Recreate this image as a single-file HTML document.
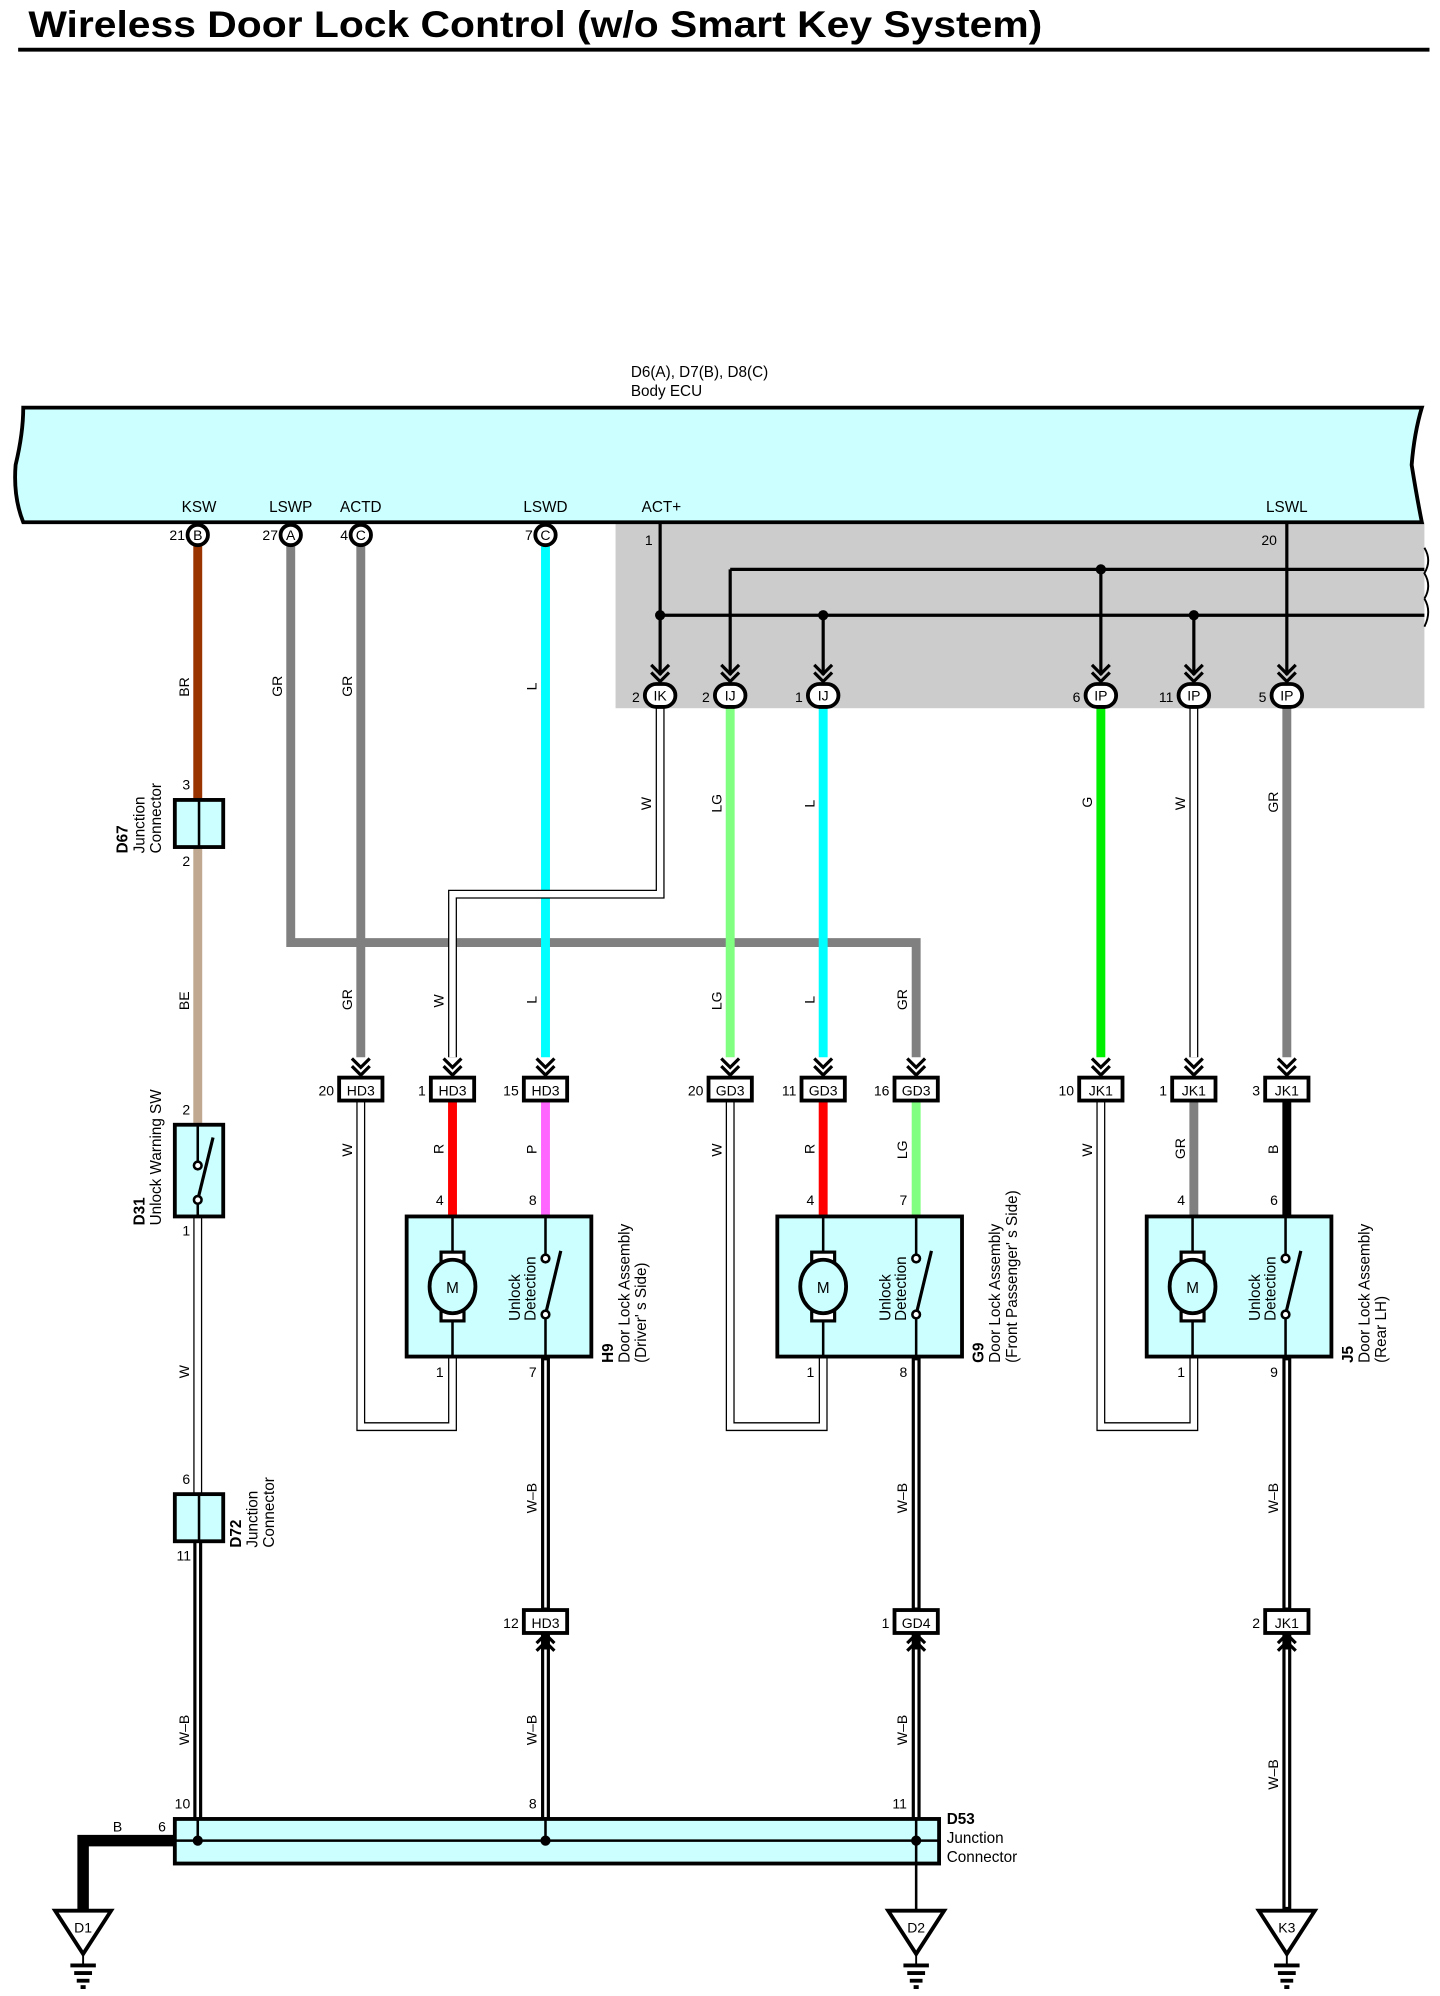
<!DOCTYPE html>
<html><head><meta charset="utf-8"><style>
html,body{margin:0;padding:0;background:#fff}
svg{display:block}
text{font-family:"Liberation Sans",Arial,sans-serif;fill:#000}
.s{font-size:11px}
.m{font-size:12px}
</style></head><body>
<svg width="1440" height="1996" viewBox="0 0 1130 1567" xmlns="http://www.w3.org/2000/svg">
<defs>
<g id="chev"><path d="M-7,-14 L0,-7 L7,-14 M-7,-8 L0,-1 L7,-8" fill="none" stroke="#000" stroke-width="2.5"/></g>
<g id="chevu"><path d="M-7,14 L0,7 L7,14 M-7,8 L0,1 L7,8" fill="none" stroke="#000" stroke-width="2.5"/></g>
<g id="gnd"><path d="M-22,0 L22,0 L0,34 Z" fill="#fff" stroke="#000" stroke-width="3"/><line x1="0" y1="34" x2="0" y2="42" stroke="#000" stroke-width="1.5"/><line x1="-10" y1="43" x2="10" y2="43" stroke="#000" stroke-width="3"/><line x1="-7" y1="49" x2="7" y2="49" stroke="#000" stroke-width="3"/><line x1="-5" y1="55" x2="5" y2="55" stroke="#000" stroke-width="3"/><line x1="-2" y1="60" x2="2" y2="60" stroke="#000" stroke-width="3"/></g>
</defs>
<text x="22" y="29" font-size="29" font-weight="bold" textLength="796" lengthAdjust="spacingAndGlyphs">Wireless Door Lock Control (w/o Smart Key System)</text>
<line x1="14" y1="39" x2="1122" y2="39" stroke="#000" stroke-width="3"/>

<rect x="483" y="410" width="635" height="146" fill="#cccccc"/>
<path d="M18,320 L1116,320 Q1110,340 1108,365 Q1112,390 1116,410 L18,410 Q10,390 12,365 Q18,340 18,320 Z" fill="#ccffff" stroke="#000" stroke-width="3"/>
<text x="495" y="296" class="m">D6(A), D7(B), D8(C)</text>
<text x="495" y="311" class="m">Body ECU</text>
<g class="m" text-anchor="middle">
<text x="156" y="402">KSW</text><text x="228" y="402">LSWP</text><text x="283" y="402">ACTD</text><text x="428" y="402">LSWD</text><text x="519" y="402">ACT+</text><text x="1010" y="402">LSWL</text>
</g>
<text x="506" y="428" class="s">1</text><text x="990" y="428" class="s">20</text>
<path d="M1118,430 Q1124,440 1118,450 Q1124,460 1118,470 M1118,470 Q1124,480 1118,492" fill="none" stroke="#000" stroke-width="1.5"/>

<g fill="none" stroke-width="7">
<line x1="155" y1="428" x2="155" y2="628" stroke="#993300"/>
<line x1="155" y1="665" x2="155" y2="883" stroke="#c0a890"/>
<path d="M228,428 L228,740 L719,740 L719,830" stroke="#808080"/>
<line x1="283" y1="428" x2="283" y2="830" stroke="#808080"/>
<line x1="428" y1="428" x2="428" y2="830" stroke="#00ffff"/>
<line x1="573" y1="556" x2="573" y2="830" stroke="#80ff80"/>
<line x1="646" y1="556" x2="646" y2="830" stroke="#00ffff"/>
<line x1="864" y1="556" x2="864" y2="830" stroke="#00ee00"/>
<line x1="1010" y1="556" x2="1010" y2="830" stroke="#808080"/>
<line x1="355" y1="864" x2="355" y2="955" stroke="#ff0000"/>
<line x1="428" y1="864" x2="428" y2="955" stroke="#ff66ff"/>
<line x1="646" y1="864" x2="646" y2="955" stroke="#ff0000"/>
<line x1="719" y1="864" x2="719" y2="955" stroke="#80ff80"/>
<line x1="937" y1="864" x2="937" y2="955" stroke="#808080"/>
<line x1="1010" y1="864" x2="1010" y2="955" stroke="#000"/>
</g>
<g fill="none">
<g stroke="#000" stroke-width="7">
<path d="M518,556 L518,702 L355,702 L355,830"/>
<line x1="155" y1="955" x2="155" y2="1173"/>
<line x1="937" y1="556" x2="937" y2="830"/>
<path d="M283,864 L283,1120 L355,1120 L355,1065"/>
<path d="M573,864 L573,1120 L646,1120 L646,1065"/>
<path d="M864,864 L864,1120 L937,1120 L937,1065"/>
</g>
<g stroke="#fff" stroke-width="5">
<path d="M518,556 L518,702 L355,702 L355,830"/>
<line x1="155" y1="955" x2="155" y2="1173"/>
<line x1="937" y1="556" x2="937" y2="830"/>
<path d="M283,864 L283,1120 L355,1120 L355,1065"/>
<path d="M573,864 L573,1120 L646,1120 L646,1065"/>
<path d="M864,864 L864,1120 L937,1120 L937,1065"/>
</g>
<g stroke="#000" stroke-width="7">
<line x1="155" y1="1210" x2="155" y2="1440"/>
<line x1="428" y1="1065" x2="428" y2="1263"/><line x1="428" y1="1283" x2="428" y2="1440"/>
<line x1="719" y1="1065" x2="719" y2="1263"/><line x1="719" y1="1283" x2="719" y2="1440"/>
<line x1="1010" y1="1065" x2="1010" y2="1263"/><line x1="1010" y1="1283" x2="1010" y2="1500"/>
</g>
<g stroke="#fff" stroke-width="2">
<line x1="155" y1="1210" x2="155" y2="1428"/>
<line x1="428" y1="1068" x2="428" y2="1262"/><line x1="428" y1="1295" x2="428" y2="1428"/>
<line x1="719" y1="1068" x2="719" y2="1262"/><line x1="719" y1="1295" x2="719" y2="1428"/>
<line x1="1010" y1="1068" x2="1010" y2="1262"/><line x1="1010" y1="1295" x2="1010" y2="1497"/>
</g>
</g>

<g stroke="#000" stroke-width="2.5" fill="none">
<line x1="518" y1="410" x2="518" y2="530"/>
<line x1="518" y1="483" x2="1118" y2="483"/>
<line x1="573" y1="447" x2="1118" y2="447"/>
<line x1="573" y1="447" x2="573" y2="530"/>
<line x1="646" y1="483" x2="646" y2="530"/>
<line x1="864" y1="447" x2="864" y2="530"/>
<line x1="937" y1="483" x2="937" y2="530"/>
<line x1="1010" y1="410" x2="1010" y2="530"/>
</g>
<g fill="#000"><circle cx="518" cy="483" r="4"/><circle cx="646" cy="483" r="4"/><circle cx="937" cy="483" r="4"/><circle cx="864" cy="447" r="4"/></g>
<use href="#chev" x="518" y="536"/><use href="#chev" x="573" y="536"/><use href="#chev" x="646" y="536"/><use href="#chev" x="864" y="536"/><use href="#chev" x="937" y="536"/><use href="#chev" x="1010" y="536"/>

<g stroke="#000" stroke-width="3" fill="#fff">
<circle cx="155" cy="420" r="8"/><circle cx="228" cy="420" r="8"/><circle cx="283" cy="420" r="8"/><circle cx="428" cy="420" r="8"/>
</g>
<g class="s" text-anchor="middle"><text x="155" y="424">B</text><text x="228" y="424">A</text><text x="283" y="424">C</text><text x="428" y="424">C</text></g>
<g class="s" text-anchor="end"><text x="145" y="424">21</text><text x="218" y="424">27</text><text x="273" y="424">4</text><text x="418" y="424">7</text></g>

<g stroke="#000" stroke-width="3" fill="#fff">
<rect x="506" y="537" width="24" height="18" rx="9"/><rect x="561" y="537" width="24" height="18" rx="9"/><rect x="634" y="537" width="24" height="18" rx="9"/><rect x="852" y="537" width="24" height="18" rx="9"/><rect x="925" y="537" width="24" height="18" rx="9"/><rect x="998" y="537" width="24" height="18" rx="9"/>
</g>
<g class="s" text-anchor="middle"><text x="518" y="550">IK</text><text x="573" y="550">IJ</text><text x="646" y="550">IJ</text><text x="864" y="550">IP</text><text x="937" y="550">IP</text><text x="1010" y="550">IP</text></g>
<g class="s" text-anchor="end"><text x="502" y="551">2</text><text x="557" y="551">2</text><text x="630" y="551">1</text><text x="848" y="551">6</text><text x="921" y="551">11</text><text x="994" y="551">5</text></g>

<g>
<use href="#chev" x="283" y="845"/><use href="#chev" x="355" y="845"/><use href="#chev" x="428" y="845"/>
<use href="#chev" x="573" y="845"/><use href="#chev" x="646" y="845"/><use href="#chev" x="719" y="845"/>
<use href="#chev" x="864" y="845"/><use href="#chev" x="937" y="845"/><use href="#chev" x="1010" y="845"/>
<use href="#chevu" x="428" y="1282"/><use href="#chevu" x="719" y="1282"/><use href="#chevu" x="1010" y="1282"/>
</g>
<g stroke="#000" stroke-width="3" fill="#fff">
<rect x="266" y="846" width="34" height="18"/><rect x="338" y="846" width="34" height="18"/><rect x="411" y="846" width="34" height="18"/>
<rect x="556" y="846" width="34" height="18"/><rect x="629" y="846" width="34" height="18"/><rect x="702" y="846" width="34" height="18"/>
<rect x="847" y="846" width="34" height="18"/><rect x="920" y="846" width="34" height="18"/><rect x="993" y="846" width="34" height="18"/>
<rect x="411" y="1264" width="34" height="18"/><rect x="702" y="1264" width="34" height="18"/><rect x="993" y="1264" width="34" height="18"/>
</g>
<g class="s" text-anchor="middle">
<text x="283" y="860">HD3</text><text x="355" y="860">HD3</text><text x="428" y="860">HD3</text>
<text x="573" y="860">GD3</text><text x="646" y="860">GD3</text><text x="719" y="860">GD3</text>
<text x="864" y="860">JK1</text><text x="937" y="860">JK1</text><text x="1010" y="860">JK1</text>
<text x="428" y="1278">HD3</text><text x="719" y="1278">GD4</text><text x="1010" y="1278">JK1</text>
</g>
<g class="s" text-anchor="end">
<text x="262" y="860">20</text><text x="334" y="860">1</text><text x="407" y="860">15</text>
<text x="552" y="860">20</text><text x="625" y="860">11</text><text x="698" y="860">16</text>
<text x="843" y="860">10</text><text x="916" y="860">1</text><text x="989" y="860">3</text>
<text x="407" y="1278">12</text><text x="698" y="1278">1</text><text x="989" y="1278">2</text>
</g>

<g id="dl">
<rect x="319" y="955" width="145" height="110" fill="#ccffff" stroke="#000" stroke-width="3"/>
<line x1="355" y1="955" x2="355" y2="1065" stroke="#000" stroke-width="2"/>
<rect x="346" y="983" width="18" height="8" fill="#fff" stroke="#000" stroke-width="2.5"/>
<rect x="346" y="1029" width="18" height="8" fill="#fff" stroke="#000" stroke-width="2.5"/>
<ellipse cx="355" cy="1010" rx="18" ry="21" fill="#ccffff" stroke="#000" stroke-width="3"/>
<text x="355" y="1015" class="m" text-anchor="middle">M</text>
<line x1="428" y1="955" x2="428" y2="985" stroke="#000" stroke-width="2"/>
<line x1="428" y1="1035" x2="428" y2="1065" stroke="#000" stroke-width="2"/>
<line x1="428" y1="1032" x2="440" y2="982" stroke="#000" stroke-width="2.5"/>
<circle cx="428" cy="988" r="3" fill="#fff" stroke="#000" stroke-width="2"/>
<circle cx="428" cy="1032" r="3" fill="#fff" stroke="#000" stroke-width="2"/>
<text transform="translate(408,1037) rotate(-90)" class="m">Unlock</text>
<text transform="translate(420,1037) rotate(-90)" class="m">Detection</text>
</g>
<use href="#dl" x="291"/><use href="#dl" x="581"/>

<g class="s" text-anchor="middle">
<text x="345" y="946">4</text><text x="418" y="946">8</text><text x="345" y="1081">1</text><text x="418" y="1081">7</text>
<text x="636" y="946">4</text><text x="709" y="946">7</text><text x="636" y="1081">1</text><text x="709" y="1081">8</text>
<text x="927" y="946">4</text><text x="1000" y="946">6</text><text x="927" y="1081">1</text><text x="1000" y="1081">9</text>
</g>
<g class="m">
<text transform="translate(481,1070) rotate(-90)" font-weight="bold">H9</text>
<text transform="translate(494,1070) rotate(-90)">Door Lock Assembly</text>
<text transform="translate(507,1070) rotate(-90)">(Driver' s Side)</text>
<text transform="translate(772,1070) rotate(-90)" font-weight="bold">G9</text>
<text transform="translate(785,1070) rotate(-90)">Door Lock Assembly</text>
<text transform="translate(798,1070) rotate(-90)">(Front Passenger' s Side)</text>
<text transform="translate(1062,1070) rotate(-90)" font-weight="bold">J5</text>
<text transform="translate(1075,1070) rotate(-90)">Door Lock Assembly</text>
<text transform="translate(1088,1070) rotate(-90)">(Rear LH)</text>
</g>

<g stroke="#000" stroke-width="3" fill="#ccffff">
<rect x="137" y="628" width="38" height="37"/>
<rect x="137" y="883" width="38" height="72"/>
<rect x="137" y="1173" width="38" height="37"/>
</g>
<line x1="156" y1="628" x2="156" y2="665" stroke="#000" stroke-width="2"/>
<line x1="156" y1="1173" x2="156" y2="1210" stroke="#000" stroke-width="2"/>
<line x1="155" y1="883" x2="155" y2="912" stroke="#000" stroke-width="2"/>
<line x1="155" y1="942" x2="155" y2="955" stroke="#000" stroke-width="2"/>
<line x1="155" y1="942" x2="167" y2="893" stroke="#000" stroke-width="2.5"/>
<circle cx="155" cy="915" r="3" fill="#fff" stroke="#000" stroke-width="2"/>
<circle cx="155" cy="942" r="3" fill="#fff" stroke="#000" stroke-width="2"/>
<g class="s" text-anchor="middle">
<text x="146" y="620">3</text><text x="146" y="680">2</text><text x="146" y="875">2</text><text x="146" y="970">1</text>
<text x="146" y="1165">6</text><text x="144" y="1225">11</text><text x="143" y="1420">10</text>
<text x="418" y="1420">8</text><text x="706" y="1420">11</text><text x="127" y="1438">6</text><text x="92" y="1438">B</text>
</g>
<g class="m">
<text transform="translate(100,670) rotate(-90)" font-weight="bold">D67</text>
<text transform="translate(113,670) rotate(-90)">Junction</text>
<text transform="translate(126,670) rotate(-90)">Connector</text>
<text transform="translate(113,962) rotate(-90)" font-weight="bold">D31</text>
<text transform="translate(126,962) rotate(-90)">Unlock Warning SW</text>
<text transform="translate(189,1215) rotate(-90)" font-weight="bold">D72</text>
<text transform="translate(202,1215) rotate(-90)">Junction</text>
<text transform="translate(215,1215) rotate(-90)">Connector</text>
<text x="743" y="1432" font-weight="bold">D53</text>
<text x="743" y="1447">Junction</text>
<text x="743" y="1462">Connector</text>
</g>

<g class="s">
<text transform="translate(148,547) rotate(-90)">BR</text>
<text transform="translate(221,547) rotate(-90)">GR</text>
<text transform="translate(276,547) rotate(-90)">GR</text>
<text transform="translate(421,542) rotate(-90)">L</text>
<text transform="translate(511,636) rotate(-90)">W</text>
<text transform="translate(566,638) rotate(-90)">LG</text>
<text transform="translate(639,634) rotate(-90)">L</text>
<text transform="translate(857,634) rotate(-90)">G</text>
<text transform="translate(930,636) rotate(-90)">W</text>
<text transform="translate(1003,638) rotate(-90)">GR</text>
<text transform="translate(148,793) rotate(-90)">BE</text>
<text transform="translate(276,793) rotate(-90)">GR</text>
<text transform="translate(348,791) rotate(-90)">W</text>
<text transform="translate(421,788) rotate(-90)">L</text>
<text transform="translate(566,793) rotate(-90)">LG</text>
<text transform="translate(639,788) rotate(-90)">L</text>
<text transform="translate(712,793) rotate(-90)">GR</text>
<text transform="translate(276,908) rotate(-90)">W</text>
<text transform="translate(348,906) rotate(-90)">R</text>
<text transform="translate(421,906) rotate(-90)">P</text>
<text transform="translate(566,908) rotate(-90)">W</text>
<text transform="translate(639,906) rotate(-90)">R</text>
<text transform="translate(712,910) rotate(-90)">LG</text>
<text transform="translate(857,908) rotate(-90)">W</text>
<text transform="translate(930,910) rotate(-90)">GR</text>
<text transform="translate(1003,906) rotate(-90)">B</text>
<text transform="translate(148,1082) rotate(-90)">W</text>
<text transform="translate(421,1188) rotate(-90)">W–B</text>
<text transform="translate(712,1188) rotate(-90)">W–B</text>
<text transform="translate(1003,1188) rotate(-90)">W–B</text>
<text transform="translate(148,1370) rotate(-90)">W–B</text>
<text transform="translate(421,1370) rotate(-90)">W–B</text>
<text transform="translate(712,1370) rotate(-90)">W–B</text>
<text transform="translate(1003,1405) rotate(-90)">W–B</text>
</g>

<path d="M137,1445 L65,1445 L65,1500" fill="none" stroke="#000" stroke-width="9"/>
<rect x="137" y="1428" width="600" height="35" fill="#ccffff" stroke="#000" stroke-width="3"/>
<line x1="137" y1="1445" x2="737" y2="1445" stroke="#000" stroke-width="2"/>
<line x1="155" y1="1428" x2="155" y2="1445" stroke="#000" stroke-width="2"/>
<line x1="428" y1="1428" x2="428" y2="1445" stroke="#000" stroke-width="2"/>
<line x1="719" y1="1428" x2="719" y2="1500" stroke="#000" stroke-width="2"/>
<g fill="#000"><circle cx="155" cy="1445" r="4"/><circle cx="428" cy="1445" r="4"/><circle cx="719" cy="1445" r="4"/></g>

<use href="#gnd" x="65" y="1500"/><use href="#gnd" x="719" y="1500"/><use href="#gnd" x="1010" y="1500"/>
<g class="s" text-anchor="middle"><text x="65" y="1517">D1</text><text x="719" y="1517">D2</text><text x="1010" y="1517">K3</text></g>
</svg>
</body></html>
